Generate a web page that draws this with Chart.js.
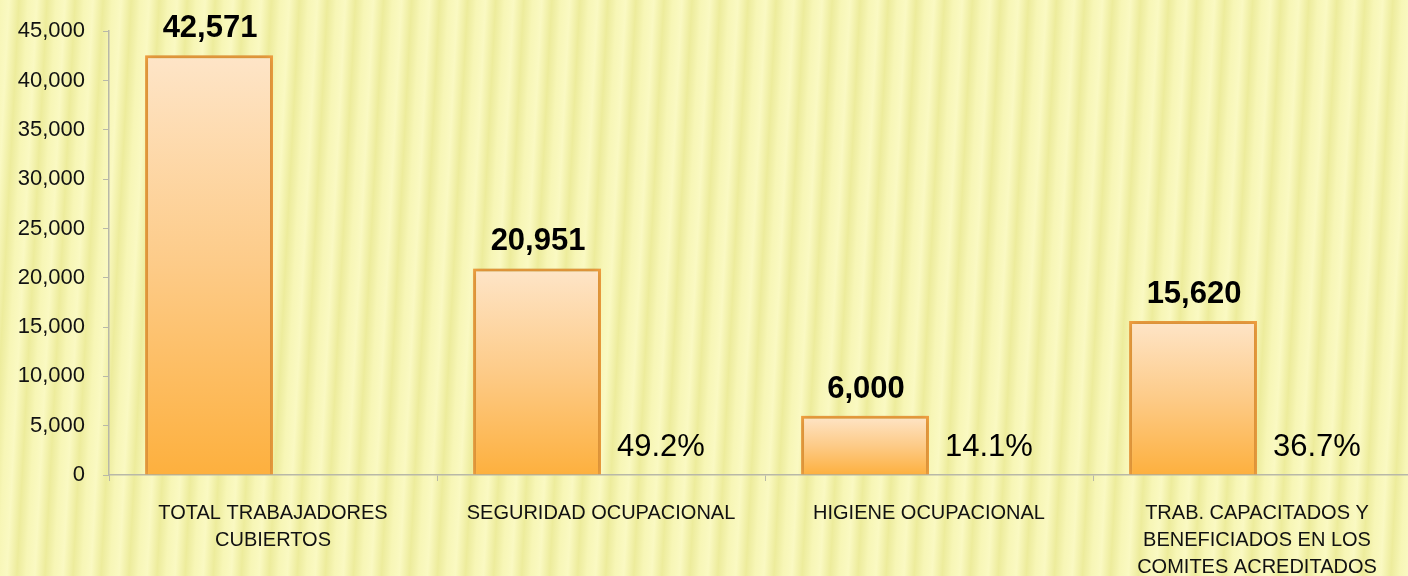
<!DOCTYPE html>
<html>
<head>
<meta charset="utf-8">
<script src="https://cdn.jsdelivr.net/npm/chart.js@4"></script>
<style>
  html, body { margin: 0; padding: 0; overflow: hidden; width: 1408px; height: 576px; }
  body {
    background:
      repeating-linear-gradient(93deg, #f7f6b6 0px, #faf9c2 9px, #edec9c 19px, #f2f1aa 24px, #f7f6b6 28px),
      #f3f2ac;
  }
  #chart { position: absolute; left: 0; top: 0; }
</style>
</head>
<body>
<canvas id="chart" width="1421" height="592"></canvas>
<script>
const categories = [
    ['TOTAL TRABAJADORES', 'CUBIERTOS'],
    'SEGURIDAD OCUPACIONAL',
    'HIGIENE OCUPACIONAL',
    ['TRAB. CAPACITADOS Y', 'BENEFICIADOS EN LOS', 'COMITES ACREDITADOS']
];
const workers = [42571, 20951, 6000, 15620];
const percents = [null, 49.2, 14.1, 36.7];
const yTicks = [0, 5000, 10000, 15000, 20000, 25000, 30000, 35000, 40000, 45000];

const fmt = (v) => v.toLocaleString('en-US');

// each bar goes light at its top to orange at the base
function barFill(context) {
    const chart = context.chart;
    const area = chart.chartArea;
    const y = chart.scales.y;
    if (!area || !y || context.raw == null) return '#fdb84a';
    const top = y.getPixelForValue(context.raw);
    const g = chart.ctx.createLinearGradient(0, top, 0, area.bottom);
    g.addColorStop(0, '#fee5c8');
    g.addColorStop(0.5, '#fdcb88');
    g.addColorStop(1, '#fdb03e');
    return g;
}

// shadow behind the bars
const barShadow = {
    id: 'barShadow',
    beforeDatasetDraw(chart, args) {
        if (args.index !== 0) return;
        chart.ctx.save();
        chart.ctx.shadowColor = 'rgba(90,80,20,0.35)';
        chart.ctx.shadowBlur = 8;
    },
    afterDatasetDraw(chart, args) {
        if (args.index !== 0) return;
        chart.ctx.restore();
    }
};

// value labels over bars and percent labels in the second slot
const labels = {
    id: 'labels',
    afterDatasetsDraw(chart) {
        const ctx = chart.ctx;
        const bars = chart.getDatasetMeta(0).data;
        const pct = chart.getDatasetMeta(1).data;
        const yScale = chart.scales.y;
        ctx.save();
        ctx.fillStyle = '#000';
        ctx.textAlign = 'center';
        ctx.textBaseline = 'alphabetic';
        ctx.font = 'bold 31px "Liberation Sans", Arial, sans-serif';
        bars.forEach((b, i) => {
            ctx.fillText(fmt(workers[i]), b.x + 1, b.y - 18);
        });
        ctx.font = '31px "Liberation Sans", Arial, sans-serif';
        pct.forEach((b, i) => {
            if (percents[i] == null) return;
            ctx.fillText(percents[i].toFixed(1) + '%', b.x - 4, yScale.getPixelForValue(0) - 19);
        });
        ctx.restore();
    }
};

const ctx = document.getElementById('chart').getContext('2d');
const myChart = new Chart(ctx, {
    type: 'bar',
    data: {
        labels: categories,
        datasets: [{
            label: 'trabajadores',
            data: workers,
            backgroundColor: barFill,
            borderColor: '#f4a040',
            borderWidth: 3,
            yAxisID: 'y'
        }, {
            label: 'porcentaje',
            data: percents,
            backgroundColor: 'rgba(0,0,0,0)',
            borderWidth: 0,
            yAxisID: 'y1'
        }]
    },
    options: {
        responsive: false,
        animation: false,
        categoryPercentage: 0.78,
        barPercentage: 1.0,
        layout: { padding: { top: 31, right: 0, left: 0, bottom: 0 } },
        plugins: {
            legend: { display: false },
            tooltip: { enabled: false }
        },
        scales: {
            x: {
                afterFit: (s) => { s.height = 592 - 475; },
                grid: {
                    display: true,
                    offset: true,
                    drawOnChartArea: false,
                    tickLength: 6,
                    color: '#b8b8a8'
                },
                border: { color: '#b8b8a8', width: 1.5 },
                ticks: {
                    color: '#111',
                    padding: 19,
                    maxRotation: 0,
                    autoSkip: false,
                    font: { family: '"Liberation Sans", Arial, sans-serif', size: 20, lineHeight: 1.35 }
                }
            },
            y: {
                min: 0,
                max: 45000,
                afterFit: (s) => { s.width = 109; },
                afterBuildTicks: (s) => { s.ticks = yTicks.map(v => ({ value: v })); },
                grid: {
                    display: true,
                    drawOnChartArea: false,
                    tickLength: 6,
                    color: '#b8b8a8'
                },
                border: { color: '#b8b8a8', width: 1.5 },
                ticks: {
                    color: '#111',
                    padding: 18,
                    callback: (v) => fmt(v),
                    font: { family: '"Liberation Sans", Arial, sans-serif', size: 22 }
                }
            },
            y1: {
                display: false,
                min: 0,
                max: 100
            }
        }
    },
    plugins: [barShadow, labels]
});
</script>
</body>
</html>
